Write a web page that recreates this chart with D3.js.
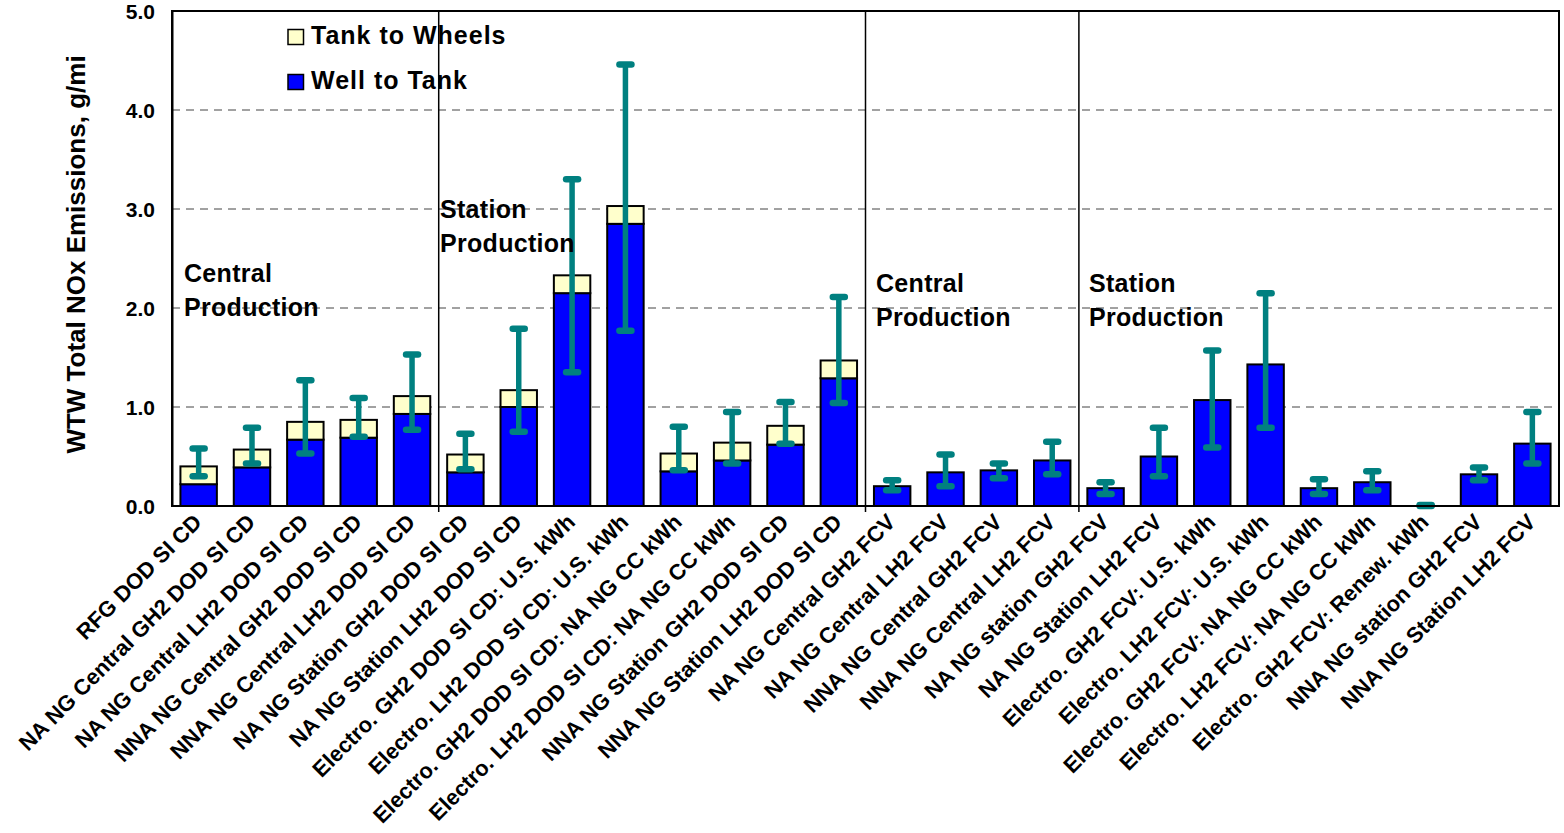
<!DOCTYPE html>
<html><head><meta charset="utf-8">
<script src="https://cdn.jsdelivr.net/npm/d3@7"></script>
<style>
body{margin:0;background:#fff;}
svg text{font-family:"Liberation Sans",Arial,sans-serif;font-weight:bold;fill:#000;}
</style>
</head><body>
<svg id="chart" width="1564" height="833"></svg>
<script>
const categories = [
  "RFG DOD SI CD",
  "NA NG Central GH2 DOD SI CD",
  "NA NG Central LH2 DOD SI CD",
  "NNA NG Central GH2 DOD SI CD",
  "NNA NG Central LH2 DOD SI CD",
  "NA NG Station GH2 DOD SI CD",
  "NA NG Station LH2 DOD SI CD",
  "Electro. GH2 DOD SI CD: U.S. kWh",
  "Electro. LH2 DOD SI CD: U.S. kWh",
  "Electro. GH2 DOD SI CD: NA NG CC kWh",
  "Electro. LH2 DOD SI CD: NA NG CC kWh",
  "NNA NG Station GH2  DOD SI CD",
  "NNA NG Station LH2 DOD SI CD",
  "NA NG Central  GH2 FCV",
  "NA NG Central  LH2 FCV",
  "NNA NG Central GH2 FCV",
  "NNA NG Central LH2 FCV",
  "NA NG station GH2 FCV",
  "NA NG Station LH2 FCV",
  "Electro. GH2 FCV: U.S. kWh",
  "Electro. LH2 FCV: U.S. kWh",
  "Electro. GH2 FCV: NA NG CC kWh",
  "Electro. LH2 FCV: NA NG CC kWh",
  "Electro. GH2 FCV: Renew. kWh",
  "NNA NG station GH2 FCV",
  "NNA NG Station LH2 FCV"
];
const wellToTank   = [0.22,0.39,0.67,0.69,0.93,0.34,1.00,2.15,2.85,0.35,0.46,0.62,1.29,
                      0.20,0.34,0.36,0.46,0.18,0.50,1.07,1.43,0.18,0.24,0.00,0.32,0.63];
const tankToWheels = [0.18,0.18,0.18,0.18,0.18,0.18,0.17,0.18,0.18,0.18,0.18,0.19,0.18,
                      0,0,0,0,0,0,0,0,0,0,0,0,0];
const errLow  = [0.30,0.43,0.53,0.70,0.77,0.37,0.75,1.35,1.77,0.36,0.43,0.63,1.04,
                 0.16,0.20,0.28,0.32,0.12,0.30,0.59,0.79,0.12,0.16,0.00,0.26,0.43];
const errHigh = [0.58,0.79,1.27,1.09,1.53,0.73,1.79,3.30,4.46,0.80,0.95,1.05,2.11,
                 0.26,0.52,0.43,0.65,0.24,0.79,1.57,2.15,0.27,0.35,0.01,0.39,0.95];
const yTicks = [0,1,2,3,4,5];
const seriesNames = ["Tank to Wheels","Well to Tank"];
const seriesColors = ["#FFFFCC","#0000FF"];
const groupLabels = [["Central","Production"],["Station","Production"],["Central","Production"],["Station","Production"]];
const groupStarts = [0,5,13,17];
const yTitle = "WTW Total NOx Emissions, g/mi";

(function draw(){
// ---------- layout ----------
const pL = 172, pR = 1559, pT = 11, pB = 506;
const groupLabelPos = [[184,282],[440,218],[876,292],[1089,292]];
const errColor = "#008080";

const svg = d3.select("#chart");
const x = d3.scaleBand().domain(categories).range([pL, pR]).paddingInner(0.317).paddingOuter(0.158);
const y = d3.scaleLinear().domain([0, 5]).range([pB, pT]);

// gridlines
svg.append("g").selectAll("line")
  .data(yTicks.filter(d => d > 0 && d < 5)).join("line")
  .attr("x1", pL).attr("x2", pR)
  .attr("y1", d => y(d)).attr("y2", d => y(d))
  .attr("stroke", "#444").attr("stroke-width", 1).attr("stroke-dasharray", "8,6");

// group separators
const sepX = i => x(categories[i]) - x.step() * x.paddingInner() / 2;
svg.append("g").selectAll("line")
  .data(groupStarts.slice(1)).join("line")
  .attr("x1", d => sepX(d)).attr("x2", d => sepX(d))
  .attr("y1", pT).attr("y2", pB + 6)
  .attr("stroke", "#000").attr("stroke-width", 1.5);

// bars
const rows = categories.map((c, i) => ({c, wtt: wellToTank[i], ttw: tankToWheels[i], lo: errLow[i], hi: errHigh[i]}));
const bars = svg.append("g");
bars.selectAll("rect.wtt").data(rows.filter(d => d.wtt > 0)).join("rect")
  .attr("class", "wtt")
  .attr("x", d => x(d.c)).attr("width", x.bandwidth())
  .attr("y", d => y(d.wtt)).attr("height", d => y(0) - y(d.wtt))
  .attr("fill", seriesColors[1]).attr("stroke", "#000").attr("stroke-width", 2);
bars.selectAll("rect.ttw").data(rows.filter(d => d.ttw > 0)).join("rect")
  .attr("class", "ttw")
  .attr("x", d => x(d.c)).attr("width", x.bandwidth())
  .attr("y", d => y(d.wtt + d.ttw)).attr("height", d => y(d.wtt) - y(d.wtt + d.ttw))
  .attr("fill", seriesColors[0]).attr("stroke", "#000").attr("stroke-width", 2);

// error bars
const eb = svg.append("g").attr("stroke", errColor).attr("stroke-linecap", "round");
const cx = d => x(d.c) + x.bandwidth() / 2;
eb.selectAll("line.v").data(rows).join("line")
  .attr("class", "v")
  .attr("x1", cx).attr("x2", cx)
  .attr("y1", d => y(d.lo)).attr("y2", d => y(d.hi))
  .attr("stroke-width", 5.5).attr("stroke-linecap", "butt");
["lo", "hi"].forEach(k => {
  eb.selectAll("line.c" + k).data(rows).join("line")
    .attr("class", "c" + k)
    .attr("x1", d => cx(d) - 6).attr("x2", d => cx(d) + 6)
    .attr("y1", d => y(d[k])).attr("y2", d => y(d[k]))
    .attr("stroke-width", 6.5);
});

// plot border
svg.append("rect")
  .attr("x", pL).attr("y", pT).attr("width", pR - pL).attr("height", pB - pT)
  .attr("fill", "none").attr("stroke", "#000").attr("stroke-width", 2);

// y axis
const yAxis = svg.append("g").attr("transform", `translate(${pL},0)`)
  .call(d3.axisLeft(y).tickValues(yTicks).tickFormat(d3.format(".1f")).tickSize(0).tickPadding(17));
yAxis.select(".domain").attr("stroke", "#000").attr("stroke-width", 2);
yAxis.selectAll("text").style("font-size", "21px").attr("dy", "0.36em");

// x axis labels
const xAxis = svg.append("g").attr("transform", `translate(0,${pB})`)
  .call(d3.axisBottom(x).tickSize(0));
xAxis.select(".domain").remove();
xAxis.selectAll("text")
  .style("font-size", "22px")
  .attr("text-anchor", "end")
  .attr("x", 0).attr("y", 0).attr("dy", "0.35em")
  .attr("transform", "translate(-1,12) rotate(-45)");

// y title
svg.append("text")
  .attr("transform", `translate(85,${(pT + pB) / 2 - 4}) rotate(-90)`)
  .attr("text-anchor", "middle")
  .style("font-size", "26px")
  .text(yTitle);

// group labels
groupLabels.forEach((lines, i) => {
  const t = svg.append("text").style("font-size", "25px").style("letter-spacing", "0.3px");
  lines.forEach((ln, j) => {
    t.append("tspan").attr("x", groupLabelPos[i][0]).attr("y", groupLabelPos[i][1] + j * 34).text(ln);
  });
});

// legend
const legY = [29.5, 74.5];
const leg = svg.append("g");
seriesNames.forEach((s, i) => {
  leg.append("rect").attr("x", 288).attr("y", legY[i]).attr("width", 15.5).attr("height", 15)
    .attr("fill", seriesColors[i]).attr("stroke", "#000").attr("stroke-width", 1.5);
  leg.append("text").attr("x", 311).attr("y", legY[i] + 14.5)
    .style("font-size", "25px").style("letter-spacing", "1px").text(s);
});
})();
</script>
</body></html>
